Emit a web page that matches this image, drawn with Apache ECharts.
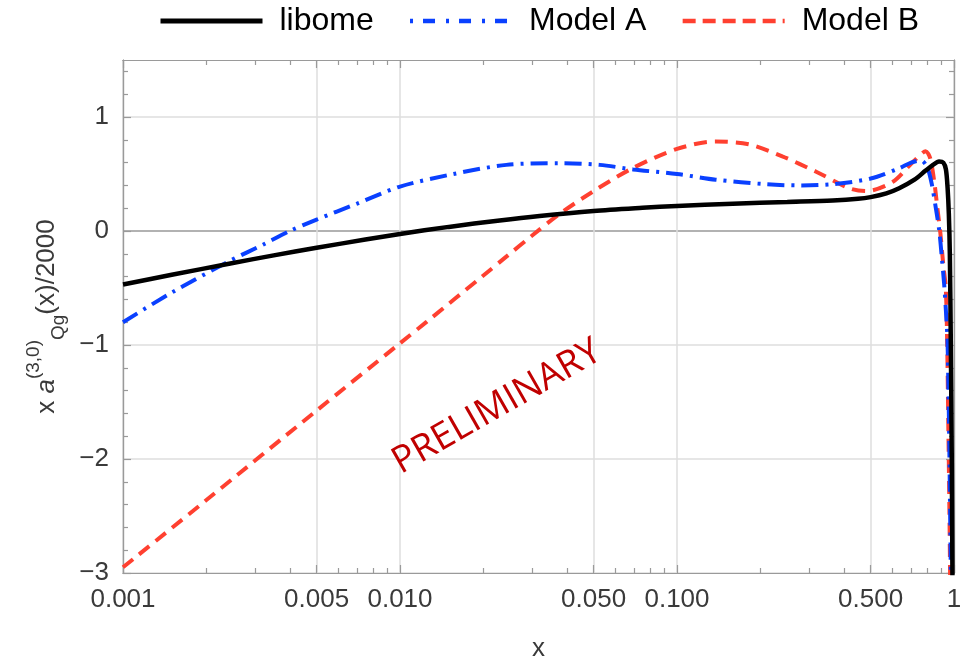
<!DOCTYPE html>
<html>
<head>
<meta charset="utf-8">
<script src="https://cdn.jsdelivr.net/npm/echarts@6/dist/echarts.min.js"></script>
<style>html,body{margin:0;padding:0;background:#fff;}#c{width:966px;height:660px;}</style>
</head>
<body>
<div id="c"></div>
<script>
// ---- data ----
const libomeX = [0.001, 0.0015, 0.00244, 0.0035, 0.005, 0.0075, 0.01, 0.015, 0.0229, 0.0319, 0.05, 0.075, 0.1, 0.159, 0.25, 0.365, 0.45, 0.5, 0.57, 0.634, 0.72, 0.79, 0.84, 0.883, 0.915, 0.935, 0.948, 0.958, 0.966, 0.974, 0.981, 0.987, 0.993];
const libomeY = [-0.47, -0.384, -0.285, -0.214, -0.147, -0.075, -0.026, 0.036, 0.093, 0.132, 0.175, 0.203, 0.22, 0.24, 0.255, 0.268, 0.282, 0.297, 0.33, 0.375, 0.45, 0.53, 0.58, 0.61, 0.60, 0.54, 0.38, 0.15, -0.2, -1.0, -1.9, -3.0, -4.0];

const modelAX = [0.001, 0.0015, 0.00244, 0.0032, 0.004, 0.005, 0.007, 0.01, 0.0156, 0.0242, 0.0377, 0.0526, 0.0694, 0.1, 0.138, 0.21, 0.277, 0.364, 0.5, 0.634, 0.7, 0.76, 0.8, 0.83, 0.86, 0.885, 0.905, 0.921, 0.935, 0.947, 0.955, 0.962, 0.968, 0.974, 0.982];
const modelAY = [-0.80, -0.54, -0.26, -0.12, 0.0, 0.10, 0.24, 0.39, 0.50, 0.58, 0.595, 0.58, 0.54, 0.50, 0.45, 0.41, 0.40, 0.41, 0.46, 0.55, 0.60, 0.62, 0.56, 0.42, 0.20, 0.0, -0.25, -0.46, -0.70, -0.95, -1.4, -1.9, -2.45, -3.0, -3.8];

const modelBX = [0.001, 0.002, 0.005, 0.01, 0.0125, 0.02, 0.0242, 0.03, 0.0377, 0.05, 0.069, 0.1, 0.138, 0.182, 0.24, 0.318, 0.419, 0.481, 0.6, 0.7, 0.75, 0.79, 0.82, 0.849, 0.871, 0.893, 0.915, 0.934, 0.945, 0.955, 0.962, 0.968, 0.976];
const modelBY = [-2.95, -2.36, -1.575, -0.985, -0.795, -0.39, -0.225, -0.04, 0.15, 0.35, 0.55, 0.72, 0.785, 0.76, 0.655, 0.52, 0.375, 0.35, 0.43, 0.59, 0.66, 0.70, 0.64, 0.43, 0.20, -0.02, -0.3, -0.5, -1.0, -1.8, -2.4, -3.0, -3.8];

const seriesNames = ['libome', 'Model A', 'Model B'];

// tick labels
const xMajorTicks = [0.001, 0.005, 0.01, 0.05, 0.1, 0.5, 1];
const xMajorLabels = ['0.001', '0.005', '0.010', '0.050', '0.100', '0.500', '1'];
const xMinorTicks = [0.002, 0.003, 0.004, 0.006, 0.007, 0.008, 0.009,
                     0.02, 0.03, 0.04, 0.06, 0.07, 0.08, 0.09,
                     0.2, 0.3, 0.4, 0.6, 0.7, 0.8, 0.9];
const yMajorTicks = [-3, -2, -1, 0, 1];
const yMajorLabels = ['\u22123', '\u22122', '\u22121', '0', '1'];
const yMinorTicks = [-2.8, -2.6, -2.4, -2.2, -1.8, -1.6, -1.4, -1.2, -0.8, -0.6, -0.4, -0.2,
                     0.2, 0.4, 0.6, 0.8, 1.2, 1.4];

// ---- chart ----
const FONT = '"Liberation Sans", Arial, sans-serif';
const FRAME = '#9a9a9a';
const TXT = '#3a3a3a';
const GRID = { left: 123, right: 12, top: 60, bottom: 87, outerBoundsMode: 'none', containLabel: false };
const lg = v => Math.log10(v);
const xMajorLog = xMajorTicks.map(lg);
const xMinorLog = xMinorTicks.map(lg);

function nearestLabel(ticks, labels, v) {
  let best = 0, bd = 1e9;
  ticks.forEach((t, i) => { const d = Math.abs(t - v); if (d < bd) { bd = d; best = i; } });
  return labels[best];
}
const xLabelFmt = v => nearestLabel(xMajorLog, xMajorLabels, v);
const yLabelFmt = v => nearestLabel(yMajorTicks, yMajorLabels, v);
const zip = (xs, ys) => xs.map((x, i) => [x, ys[i]]);

const hiddenAxisParts = {
  axisLine: { show: false }, axisTick: { show: false },
  axisLabel: { show: false }, splitLine: { show: false }
};
const decoX = (gridIndex, position, ticks, len, extra) => Object.assign({
  type: 'value', gridIndex, position, min: -3, max: 0,
  axisLine: { show: true, onZero: false, lineStyle: { color: FRAME, width: 1.2 } },
  axisTick: { show: true, inside: true, length: len, customValues: ticks, lineStyle: { color: FRAME, width: 1.2 } },
  axisLabel: { show: false },
  splitLine: { show: false }
}, extra || {});
const decoY = (gridIndex, position, ticks, len, extra) => Object.assign({
  type: 'value', gridIndex, position, min: -3, max: 1.5,
  axisLine: { show: true, onZero: false, lineStyle: { color: FRAME, width: 1.2 } },
  axisTick: { show: true, inside: true, length: len, customValues: ticks, lineStyle: { color: FRAME, width: 1.2 } },
  axisLabel: { show: false },
  splitLine: { show: false }
}, extra || {});

const option = {
  backgroundColor: '#fff',
  animation: false,
  legend: {
    left: 153, top: 0,
    itemWidth: 102, itemHeight: 20, itemGap: 34,
    itemStyle: { opacity: 0 },
    textStyle: { fontSize: 32, fontFamily: FONT, color: '#000', padding: [0, 0, 0, 12] },
    data: [
      { name: seriesNames[0], lineStyle: { width: 5 } },
      { name: seriesNames[1], lineStyle: { width: 4.5, type: [3, 10, 12, 11] } },
      { name: seriesNames[2], lineStyle: { width: 4.5, type: [13, 7] } }
    ]
  },
  grid: [
    Object.assign({}, GRID),
    Object.assign({}, GRID),
    Object.assign({}, GRID),
    Object.assign({}, GRID)
  ],
  xAxis: [
    Object.assign({ type: 'log', logBase: 10, gridIndex: 0, min: 0.001, max: 1 }, hiddenAxisParts),
    decoX(1, 'bottom', xMajorLog, 8, {
      name: 'x', nameLocation: 'middle', nameGap: 63,
      nameTextStyle: { fontSize: 26, fontFamily: FONT, color: TXT },
      axisLabel: { show: true, customValues: xMajorLog, formatter: xLabelFmt, margin: 14,
                   fontSize: 26, fontFamily: FONT, color: TXT },
      splitLine: { show: true, lineStyle: { color: '#dedede', width: 1.5 } }
    }),
    decoX(1, 'top', xMajorLog, 8),
    decoX(2, 'bottom', xMinorLog, 5),
    decoX(2, 'top', xMinorLog, 5),
    Object.assign({ type: 'value', gridIndex: 3, min: -3, max: 0 }, hiddenAxisParts)
  ],
  yAxis: [
    Object.assign({ type: 'value', gridIndex: 0, min: -3, max: 1.5 }, hiddenAxisParts),
    decoY(1, 'left', yMajorTicks, 8, {
      name: '{n|x }{i|a}{sup|(3,0)}{sub|Qg}{n|(x)/2000}',
      nameLocation: 'middle', nameGap: 52,
      nameTextStyle: {
        fontFamily: FONT, color: TXT,
        rich: {
          n: { fontSize: 26, fontFamily: FONT, color: TXT, lineHeight: 44, verticalAlign: 'middle' },
          i: { fontSize: 26, fontFamily: FONT, color: TXT, fontStyle: 'italic', lineHeight: 44, verticalAlign: 'middle' },
          sup: { fontSize: 19, fontFamily: FONT, color: TXT, lineHeight: 19, verticalAlign: 'top' },
          sub: { fontSize: 19, fontFamily: FONT, color: TXT, lineHeight: 19, verticalAlign: 'bottom' }
        }
      },
      axisLabel: { show: true, customValues: yMajorTicks, formatter: yLabelFmt, margin: 14,
                   fontSize: 26, fontFamily: FONT, color: TXT },
      splitLine: { show: true, lineStyle: { color: '#dedede', width: 1.5 } }
    }),
    decoY(1, 'right', yMajorTicks, 8),
    decoY(2, 'left', yMinorTicks, 5),
    decoY(2, 'right', yMinorTicks, 5),
    {
      type: 'value', gridIndex: 3, min: -3, max: 1.5,
      axisLine: { show: false }, axisLabel: { show: false },
      axisTick: { show: false, customValues: [0] },
      splitLine: { show: true, lineStyle: { color: '#a0a0a0', width: 1.6 } }
    }
  ],
  graphic: [{
    type: 'text', x: 497, y: 407, rotation: 0.52, z: 1,
    style: {
      text: 'PRELIMINARY', x: 0, y: 0, align: 'center', verticalAlign: 'middle',
      fontSize: 37, fontFamily: '"Open Sans", "Noto Sans", sans-serif', fill: '#c00000'
    }
  }],
  series: [
    {
      name: seriesNames[0], type: 'line', xAxisIndex: 0, yAxisIndex: 0,
      data: zip(libomeX, libomeY), symbol: 'none', smooth: 0.3, z: 5,
      lineStyle: { color: '#000000', width: 4.5, type: 'solid' },
      itemStyle: { color: '#000000' }
    },
    {
      name: seriesNames[1], type: 'line', xAxisIndex: 0, yAxisIndex: 0,
      data: zip(modelAX, modelAY), symbol: 'none', smooth: 0.3, z: 4,
      lineStyle: { color: '#0a40ff', width: 4, type: [17, 7, 3, 7] },
      itemStyle: { color: '#0a40ff' }
    },
    {
      name: seriesNames[2], type: 'line', xAxisIndex: 0, yAxisIndex: 0,
      data: zip(modelBX, modelBY), symbol: 'none', smooth: 0.3, z: 3,
      lineStyle: { color: '#ff4030', width: 4, type: [13, 8] },
      itemStyle: { color: '#ff4030' }
    }
  ]
};
const chart = echarts.init(document.getElementById('c'), null, { renderer: 'canvas' });
chart.setOption(option);
</script>
</body>
</html>
